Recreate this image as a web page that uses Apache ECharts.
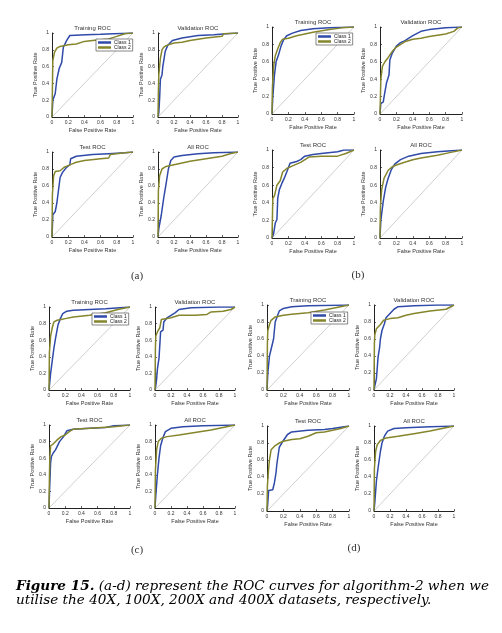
<!DOCTYPE html>
<html>
<head>
<meta charset="utf-8">
<script src="https://cdn.jsdelivr.net/npm/echarts@6/dist/echarts.min.js"></script>
<style>html,body{margin:0;padding:0;background:#fff;}#c{width:502px;height:633px;}</style>
</head>
<body>
<div id="c"></div>
<script>
// ---------- tick labels / categories ----------
const tickValues = [0, 0.2, 0.4, 0.6, 0.8, 1];
const plotTitles = ['Training ROC', 'Validation ROC', 'Test ROC', 'All ROC'];
const classNames = ['Class 1', 'Class 2'];
const groupLabels = ['(a)', '(b)', '(c)', '(d)'];
const diagonal = [[0, 0], [1, 1]];

// ---------- (a) 40X ----------
const a_tr_c1 = [[0,0],[0.01,0.2],[0.04,0.28],[0.06,0.45],[0.09,0.58],[0.12,0.65],[0.14,0.83],[0.18,0.91],[0.22,0.97],[0.42,0.98],[0.6,0.985],[1,1]];
const a_tr_c2 = [[0,0],[0.01,0.67],[0.03,0.77],[0.06,0.82],[0.1,0.84],[0.2,0.86],[0.3,0.87],[0.4,0.9],[0.5,0.91],[0.7,0.93],[0.8,0.96],[0.9,0.99],[1,1]];
const a_va_c1 = [[0,0],[0.01,0.05],[0.02,0.22],[0.03,0.45],[0.05,0.5],[0.06,0.6],[0.08,0.72],[0.09,0.78],[0.12,0.85],[0.18,0.91],[0.3,0.94],[0.5,0.97],[0.7,0.98],[0.85,0.99],[1,1]];
const a_va_c2 = [[0,0],[0.005,0.3],[0.01,0.5],[0.02,0.6],[0.03,0.7],[0.05,0.8],[0.07,0.83],[0.1,0.85],[0.2,0.88],[0.3,0.89],[0.4,0.91],[0.6,0.94],[0.8,0.96],[0.82,0.99],[1,1]];
const a_te_c1 = [[0,0],[0.01,0.26],[0.04,0.3],[0.06,0.4],[0.08,0.55],[0.1,0.7],[0.13,0.76],[0.18,0.82],[0.2,0.84],[0.22,0.85],[0.23,0.92],[0.3,0.95],[0.5,0.97],[0.7,0.98],[0.9,0.99],[1,1]];
const a_te_c2 = [[0,0],[0.005,0.5],[0.02,0.72],[0.04,0.77],[0.1,0.78],[0.12,0.8],[0.15,0.82],[0.2,0.84],[0.25,0.86],[0.3,0.88],[0.4,0.9],[0.6,0.92],[0.7,0.93],[0.72,0.97],[0.9,0.99],[1,1]];
const a_al_c1 = [[0,0],[0.01,0.1],[0.04,0.25],[0.07,0.45],[0.1,0.62],[0.13,0.8],[0.16,0.9],[0.2,0.94],[0.3,0.96],[0.5,0.98],[0.7,0.99],[1,1]];
const a_al_c2 = [[0,0],[0.005,0.55],[0.02,0.72],[0.05,0.8],[0.1,0.83],[0.2,0.85],[0.3,0.87],[0.4,0.89],[0.6,0.92],[0.8,0.95],[0.9,0.98],[1,1]];

// ---------- (b) 100X ----------
const b_tr_c1 = [[0,0],[0.01,0.2],[0.03,0.45],[0.05,0.6],[0.08,0.68],[0.11,0.78],[0.14,0.85],[0.18,0.9],[0.25,0.93],[0.35,0.96],[0.5,0.98],[0.7,0.99],[1,1]];
const b_tr_c2 = [[0,0],[0.005,0.3],[0.02,0.55],[0.04,0.67],[0.07,0.75],[0.1,0.82],[0.13,0.86],[0.2,0.87],[0.3,0.9],[0.4,0.92],[0.5,0.94],[0.7,0.97],[0.85,0.99],[1,1]];
const b_va_c1 = [[0,0],[0.01,0.12],[0.04,0.14],[0.05,0.2],[0.07,0.22],[0.08,0.36],[0.1,0.42],[0.11,0.45],[0.12,0.62],[0.15,0.7],[0.2,0.78],[0.25,0.82],[0.3,0.84],[0.4,0.9],[0.5,0.95],[0.6,0.97],[0.8,0.99],[1,1]];
const b_va_c2 = [[0,0],[0.01,0.4],[0.03,0.55],[0.06,0.6],[0.1,0.65],[0.15,0.72],[0.2,0.77],[0.3,0.83],[0.4,0.86],[0.5,0.87],[0.6,0.89],[0.8,0.92],[0.9,0.95],[0.95,0.99],[1,1]];
const b_te_c1 = [[0,0],[0.02,0.05],[0.04,0.17],[0.06,0.21],[0.07,0.45],[0.09,0.55],[0.12,0.62],[0.15,0.68],[0.18,0.75],[0.22,0.85],[0.3,0.87],[0.35,0.89],[0.4,0.93],[0.5,0.95],[0.6,0.96],[0.8,0.98],[0.88,1],[1,1]];
const b_te_c2 = [[0,0],[0.01,0.45],[0.03,0.48],[0.06,0.6],[0.1,0.65],[0.13,0.75],[0.18,0.79],[0.25,0.82],[0.35,0.86],[0.45,0.92],[0.6,0.93],[0.8,0.93],[0.9,0.96],[1,1]];
const b_al_c1 = [[0,0],[0.01,0.2],[0.04,0.42],[0.07,0.58],[0.1,0.68],[0.14,0.78],[0.18,0.84],[0.25,0.89],[0.35,0.93],[0.5,0.96],[0.7,0.98],[1,1]];
const b_al_c2 = [[0,0],[0.005,0.35],[0.02,0.55],[0.05,0.68],[0.1,0.77],[0.15,0.81],[0.2,0.83],[0.3,0.86],[0.4,0.89],[0.5,0.91],[0.7,0.94],[0.85,0.97],[1,1]];

// ---------- (c) 200X ----------
const c_tr_c1 = [[0,0],[0.02,0.2],[0.04,0.35],[0.06,0.5],[0.08,0.62],[0.11,0.78],[0.14,0.86],[0.17,0.92],[0.22,0.95],[0.3,0.96],[0.5,0.97],[0.7,0.98],[1,1]];
const c_tr_c2 = [[0,0],[0.005,0.45],[0.02,0.65],[0.04,0.75],[0.06,0.82],[0.1,0.84],[0.15,0.85],[0.2,0.86],[0.3,0.88],[0.5,0.9],[0.7,0.93],[0.85,0.97],[1,1]];
const c_va_c1 = [[0,0],[0.01,0.05],[0.02,0.13],[0.03,0.25],[0.04,0.32],[0.05,0.38],[0.06,0.38],[0.07,0.7],[0.1,0.72],[0.11,0.82],[0.15,0.87],[0.2,0.9],[0.25,0.93],[0.3,0.97],[0.45,0.99],[0.8,1],[1,1]];
const c_va_c2 = [[0,0],[0.005,0.5],[0.01,0.65],[0.03,0.7],[0.06,0.75],[0.08,0.85],[0.1,0.86],[0.2,0.87],[0.3,0.9],[0.5,0.9],[0.65,0.91],[0.7,0.94],[0.85,0.95],[0.95,0.97],[1,1]];
const c_te_c1 = [[0,0],[0.01,0.3],[0.02,0.55],[0.03,0.62],[0.05,0.66],[0.08,0.7],[0.1,0.72],[0.13,0.8],[0.18,0.86],[0.22,0.93],[0.3,0.95],[0.5,0.96],[0.7,0.97],[0.8,0.99],[1,1]];
const c_te_c2 = [[0,0],[0.005,0.35],[0.01,0.6],[0.02,0.75],[0.05,0.77],[0.1,0.82],[0.15,0.86],[0.2,0.88],[0.25,0.92],[0.3,0.95],[0.5,0.96],[0.8,0.98],[1,1]];
const c_al_c1 = [[0,0],[0.01,0.15],[0.03,0.4],[0.05,0.6],[0.07,0.75],[0.1,0.85],[0.13,0.92],[0.2,0.96],[0.35,0.98],[0.6,0.99],[1,1]];
const c_al_c2 = [[0,0],[0.005,0.45],[0.02,0.7],[0.04,0.8],[0.08,0.84],[0.15,0.86],[0.3,0.88],[0.5,0.91],[0.7,0.94],[0.85,0.97],[1,1]];

// ---------- (d) 400X ----------
const d_tr_c1 = [[0,0],[0.01,0.2],[0.03,0.4],[0.05,0.48],[0.08,0.6],[0.1,0.8],[0.13,0.88],[0.15,0.93],[0.2,0.96],[0.3,0.98],[0.5,0.99],[1,1]];
const d_tr_c2 = [[0,0],[0.005,0.55],[0.01,0.7],[0.03,0.77],[0.05,0.82],[0.1,0.86],[0.2,0.88],[0.3,0.89],[0.5,0.91],[0.7,0.94],[0.85,0.97],[1,1]];
const d_va_c1 = [[0,0],[0.01,0.05],[0.03,0.13],[0.04,0.25],[0.05,0.38],[0.07,0.5],[0.08,0.6],[0.1,0.7],[0.12,0.7],[0.13,0.78],[0.15,0.85],[0.2,0.9],[0.25,0.95],[0.3,0.98],[0.5,0.99],[0.8,1],[1,1]];
const d_va_c2 = [[0,0],[0.005,0.55],[0.01,0.65],[0.03,0.72],[0.08,0.77],[0.12,0.82],[0.2,0.84],[0.3,0.85],[0.4,0.88],[0.5,0.9],[0.7,0.93],[0.9,0.95],[1,1]];
const d_te_c1 = [[0,0],[0.005,0.04],[0.02,0.24],[0.07,0.25],[0.09,0.33],[0.11,0.45],[0.12,0.55],[0.15,0.75],[0.2,0.83],[0.25,0.9],[0.3,0.93],[0.5,0.95],[0.7,0.96],[0.8,0.97],[1,1]];
const d_te_c2 = [[0,0],[0.005,0.3],[0.02,0.5],[0.03,0.6],[0.05,0.72],[0.1,0.77],[0.15,0.8],[0.2,0.82],[0.3,0.84],[0.4,0.85],[0.5,0.88],[0.6,0.92],[0.7,0.93],[0.8,0.95],[0.9,0.97],[1,1]];
const d_al_c1 = [[0,0],[0.01,0.1],[0.03,0.35],[0.05,0.5],[0.08,0.7],[0.1,0.8],[0.13,0.88],[0.17,0.94],[0.25,0.97],[0.4,0.98],[0.7,0.99],[1,1]];
const d_al_c2 = [[0,0],[0.005,0.5],[0.02,0.7],[0.04,0.78],[0.08,0.83],[0.15,0.86],[0.3,0.88],[0.5,0.91],[0.7,0.94],[0.85,0.97],[1,1]];

const captionLine1 = ['Figure 15.', ' (a-d) represent the ROC curves for algorithm-2 when we'];
const captionLine2 = 'utilise the 40X, 100X, 200X and 400X datasets, respectively.';

// ---------- layout (pixels) ----------
const seriesData = {
  a: [[a_tr_c1,a_tr_c2],[a_va_c1,a_va_c2],[a_te_c1,a_te_c2],[a_al_c1,a_al_c2]],
  b: [[b_tr_c1,b_tr_c2],[b_va_c1,b_va_c2],[b_te_c1,b_te_c2],[b_al_c1,b_al_c2]],
  c: [[c_tr_c1,c_tr_c2],[c_va_c1,c_va_c2],[c_te_c1,c_te_c2],[c_al_c1,c_al_c2]],
  d: [[d_tr_c1,d_tr_c2],[d_va_c1,d_va_c2],[d_te_c1,d_te_c2],[d_al_c1,d_al_c2]]
};
const boxes = {
  a: [[52,33,133,117],[158,33,238,117],[52,152,133,237],[158,152,238,237]],
  b: [[272,27,354,114],[380,27,462,114],[272,150,354,238],[380,150,462,238]],
  c: [[49,307,130,390],[155,307,235,390],[49,425,130,508],[155,425,235,508]],
  d: [[267,305,349,390],[374,305,454,390],[267,426,349,511],[374,426,454,511]]
};
const legendPos = { a: [96,39], b: [316,33], c: [92,313], d: [311,312] };
const labelPos = { a: [137,276], b: [358,275], c: [137,550], d: [354,548] };

const BLUE = '#2f4aa8', OLIVE = '#85852c', GRAY = '#cfcfcf';
const FONT = '"Liberation Sans", Arial, sans-serif';
const SERIF = '"Liberation Serif", "DejaVu Serif", serif';
const CAPFONT = '"DejaVu Serif", serif';
const CAPSIZE = 13.6;

const grid = [], xAxis = [], yAxis = [], series = [], graphic = [], legend = [];
let idx = 0;
['a','b','c','d'].forEach((g, gi) => {
  boxes[g].forEach((bx, pi) => {
    const [l, t, r, b] = bx;
    grid.push({ left: l, top: t, width: r - l, height: b - t, show: false });
    const axCommon = {
      gridIndex: idx, type: 'value', min: 0, max: 1, interval: 0.2,
      splitLine: { show: false },
      axisLine: { show: true, onZero: false, lineStyle: { color: '#222', width: 1 } },
      axisTick: { show: true, inside: true, length: 2, lineStyle: { color: '#222', width: 0.7 } },
      axisLabel: { fontSize: 5, color: '#333', fontFamily: FONT, margin: 3,
        formatter: v => { const k = tickValues.find(tv => Math.abs(tv - v) < 1e-6); return k === undefined ? '' : String(k); } },
      nameLocation: 'middle',
      nameTextStyle: { fontSize: 5.5, color: '#333', fontFamily: FONT }
    };
    xAxis.push(Object.assign({}, axCommon, { name: 'False Positive Rate', nameGap: 10 }));
    yAxis.push(Object.assign({}, axCommon, { name: 'True Positive Rate', nameGap: 11 }));
    series.push({ type: 'line', xAxisIndex: idx, yAxisIndex: idx, data: diagonal, symbol: 'none', silent: true,
      lineStyle: { color: GRAY, width: 1 }, z: 1 });
    const pair = seriesData[g][pi];
    series.push({ type: 'line', name: classNames[0], xAxisIndex: idx, yAxisIndex: idx, data: pair[0], symbol: 'none',
      color: BLUE, lineStyle: { color: BLUE, width: 1.5 }, z: 2 });
    series.push({ type: 'line', name: classNames[1], xAxisIndex: idx, yAxisIndex: idx, data: pair[1], symbol: 'none',
      color: OLIVE, lineStyle: { color: OLIVE, width: 1.5 }, z: 3 });
    graphic.push({ type: 'text', x: (l + r) / 2, y: t - 5, silent: true,
      style: { text: plotTitles[pi], fontSize: 6, fontFamily: FONT, fill: '#333', align: 'center', verticalAlign: 'middle' } });
    idx++;
  });
  legend.push({
    data: classNames, orient: 'vertical', left: legendPos[g][0], top: legendPos[g][1],
    icon: 'rect', itemWidth: 13, itemHeight: 2.5, itemGap: 0, padding: [1, 2, 1, 2],
    borderColor: '#555', borderWidth: 0.7, backgroundColor: '#fff', selectedMode: false,
    textStyle: { fontSize: 5, color: '#222', fontFamily: FONT, padding: [0, 0, 0, -2] }
  });
  graphic.push({ type: 'text', x: labelPos[g][0], y: labelPos[g][1], silent: true,
    style: { text: groupLabels[gi], fontSize: 11, fontFamily: SERIF, fill: '#333', align: 'center', verticalAlign: 'middle' } });
});

graphic.push({ type: 'text', x: 16, y: 586, silent: true,
  style: { text: '{b|' + captionLine1[0] + '}{n|' + captionLine1[1] + '}', verticalAlign: 'middle', align: 'left',
    fontSize: CAPSIZE, fontFamily: CAPFONT, fontStyle: 'italic', fill: '#000',
    rich: { b: { fontSize: CAPSIZE, fontFamily: CAPFONT, fontStyle: 'italic', fontWeight: 'bold', fill: '#000' },
            n: { fontSize: CAPSIZE, fontFamily: CAPFONT, fontStyle: 'italic', fontWeight: 'normal', fill: '#000' } } } });
graphic.push({ type: 'text', x: 16, y: 600, silent: true,
  style: { text: captionLine2, verticalAlign: 'middle', align: 'left',
    fontSize: CAPSIZE, fontFamily: CAPFONT, fontStyle: 'italic', fill: '#000' } });

const chart = echarts.init(document.getElementById('c'), null, { renderer: 'canvas' });
chart.setOption({
  animation: false,
  backgroundColor: '#fff',
  grid, xAxis, yAxis, series, legend, graphic
});
</script>
</body>
</html>
